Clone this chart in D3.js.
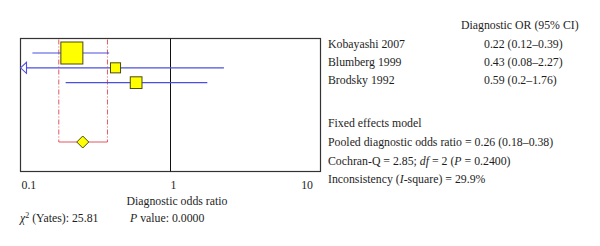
<!DOCTYPE html>
<html><head><meta charset="utf-8">
<script src="https://cdn.jsdelivr.net/npm/d3@7/dist/d3.min.js"></script>
<style>
html,body{margin:0;padding:0;background:#fff;}
svg text{font-family:"Liberation Serif","Times New Roman",serif;font-size:11.8px;fill:#1e1e1e;}
</style></head>
<body><svg id="c" width="600" height="246"></svg>
<script>
const studies = ["Kobayashi 2007", "Blumberg 1999", "Brodsky 1992"];
const or = [0.22, 0.43, 0.59];
const lower = [0.12, 0.08, 0.2];
const upper = [0.39, 2.27, 1.76];
const weights = [67, 14, 19];
const ciLabels = ["0.22 (0.12\u20130.39)", "0.43 (0.08\u20132.27)", "0.59 (0.2\u20131.76)"];
const pooled = {or: 0.26, lo: 0.18, hi: 0.38};
const tickValues = [0.1, 1, 10];
const tickLabels = ["0.1", "1", "10"];

const svg = d3.select("#c");
const x = d3.scaleLog().domain([0.1, 10]).range([20.5, 320.5]);
const y = d3.scaleLinear().domain([0, 6]).range([53, 142]);
const boxTop = 38.5, boxBot = 171.5;
const size = d3.scaleSqrt().domain([0, 67]).range([0, 22]);

// box
svg.append("rect").attr("x", x(0.1)).attr("y", boxTop).attr("width", x(10) - x(0.1)).attr("height", boxBot - boxTop)
  .attr("fill", "none").attr("stroke", "#333").attr("stroke-width", 1.2);
// line of no effect
svg.append("line").attr("x1", x(1)).attr("x2", x(1)).attr("y1", boxTop).attr("y2", boxBot).attr("stroke", "#111").attr("stroke-width", 1);

// pooled CI dash-dot lines
const red = "#e2595f";
[pooled.lo, pooled.hi].forEach(v => {
  svg.append("line").attr("x1", x(v)).attr("x2", x(v)).attr("y1", boxTop + 1).attr("y2", y(6))
    .attr("stroke", red).attr("stroke-width", 1).attr("stroke-dasharray", "5,2,1,2");
});
svg.append("line").attr("x1", x(pooled.lo)).attr("x2", x(pooled.hi)).attr("y1", y(6)).attr("y2", y(6))
  .attr("stroke", red).attr("stroke-width", 1.2);

// study CI lines
const blue = "#4b4fe0";
studies.forEach((s, i) => {
  const lo = Math.max(lower[i], 0.1);
  const xs = lower[i] < 0.1 ? x(0.1) + 6 : x(lo);
  svg.append("line").attr("x1", xs).attr("x2", x(Math.min(upper[i], 10))).attr("y1", y(i)).attr("y2", y(i))
    .attr("stroke", blue).attr("stroke-width", 1.1);
  if (lower[i] < 0.1) {
    const x0 = x(0.1);
    svg.append("path").attr("d", `M${x0},${y(i)} L${x0 + 6},${y(i) - 5.5} L${x0 + 6},${y(i) + 5.5} Z`)
      .attr("fill", "#fff").attr("stroke", blue).attr("stroke-width", 1.1);
  }
});
// squares
studies.forEach((s, i) => {
  const sz = size(weights[i]);
  svg.append("rect").attr("x", x(or[i]) - sz / 2).attr("y", y(i) - sz / 2).attr("width", sz).attr("height", sz)
    .attr("fill", "#ffff00").attr("stroke", "#4a4a10").attr("stroke-width", 1);
});
// diamond
const dx = x(pooled.or), dy = y(6), h = 6;
svg.append("path").attr("d", `M${dx - h},${dy} L${dx},${dy - h} L${dx + h},${dy} L${dx},${dy + h} Z`)
  .attr("fill", "#ffff00").attr("stroke", "#4a4a10").attr("stroke-width", 1);

// axis
const ax = svg.append("g").attr("transform", `translate(0,${boxBot})`)
  .call(d3.axisBottom(x).tickValues(tickValues).tickSize(0).tickPadding(0)
    .tickFormat((d, i) => tickLabels[i]));
ax.select(".domain").remove();
ax.selectAll("text").attr("y", 17).attr("dy", 0)
  .style("font-family", '"Liberation Serif",serif').style("font-size", "11.8px").attr("fill", "#1e1e1e")
  .attr("text-anchor", (d, i) => i === 0 ? "start" : i === 2 ? "end" : "middle")
  .attr("dx", (d, i) => i === 0 ? 0.5 : i === 2 ? -8 : 2.5);

svg.append("text").attr("x", 177).attr("y", 205).attr("text-anchor", "middle").text("Diagnostic odds ratio");
const t1 = svg.append("text").attr("x", 20).attr("y", 222);
t1.append("tspan").style("font-style", "italic").text("\u03C7");
t1.append("tspan").attr("dy", -4).style("font-size", "8px").text("2");
t1.append("tspan").attr("dy", 4).text(" (Yates): 25.81");
const t2 = svg.append("text").attr("x", 130).attr("y", 222);
t2.append("tspan").style("font-style", "italic").text("P");
t2.append("tspan").text(" value: 0.0000");

// right text
svg.append("text").attr("x", 461).attr("y", 29).text("Diagnostic OR (95% CI)");
const ty = d3.scaleLinear().domain([0, 2]).range([48, 84]);
studies.forEach((s, i) => {
  svg.append("text").attr("x", 328).attr("y", ty(i)).text(s);
  svg.append("text").attr("x", 484).attr("y", ty(i)).text(ciLabels[i]);
});
svg.append("text").attr("x", 328).attr("y", 127).text("Fixed effects model");
svg.append("text").attr("x", 328).attr("y", 146).text("Pooled diagnostic odds ratio = 0.26 (0.18\u20130.38)");
const c = svg.append("text").attr("x", 328).attr("y", 165);
c.append("tspan").text("Cochran-Q = 2.85; ");
c.append("tspan").style("font-style", "italic").text("df");
c.append("tspan").text(" = 2 (");
c.append("tspan").style("font-style", "italic").text("P");
c.append("tspan").text(" = 0.2400)");
const ic = svg.append("text").attr("x", 328).attr("y", 183);
ic.append("tspan").text("Inconsistency (");
ic.append("tspan").style("font-style", "italic").text("I");
ic.append("tspan").text("-square) = 29.9%");
</script></body></html>
